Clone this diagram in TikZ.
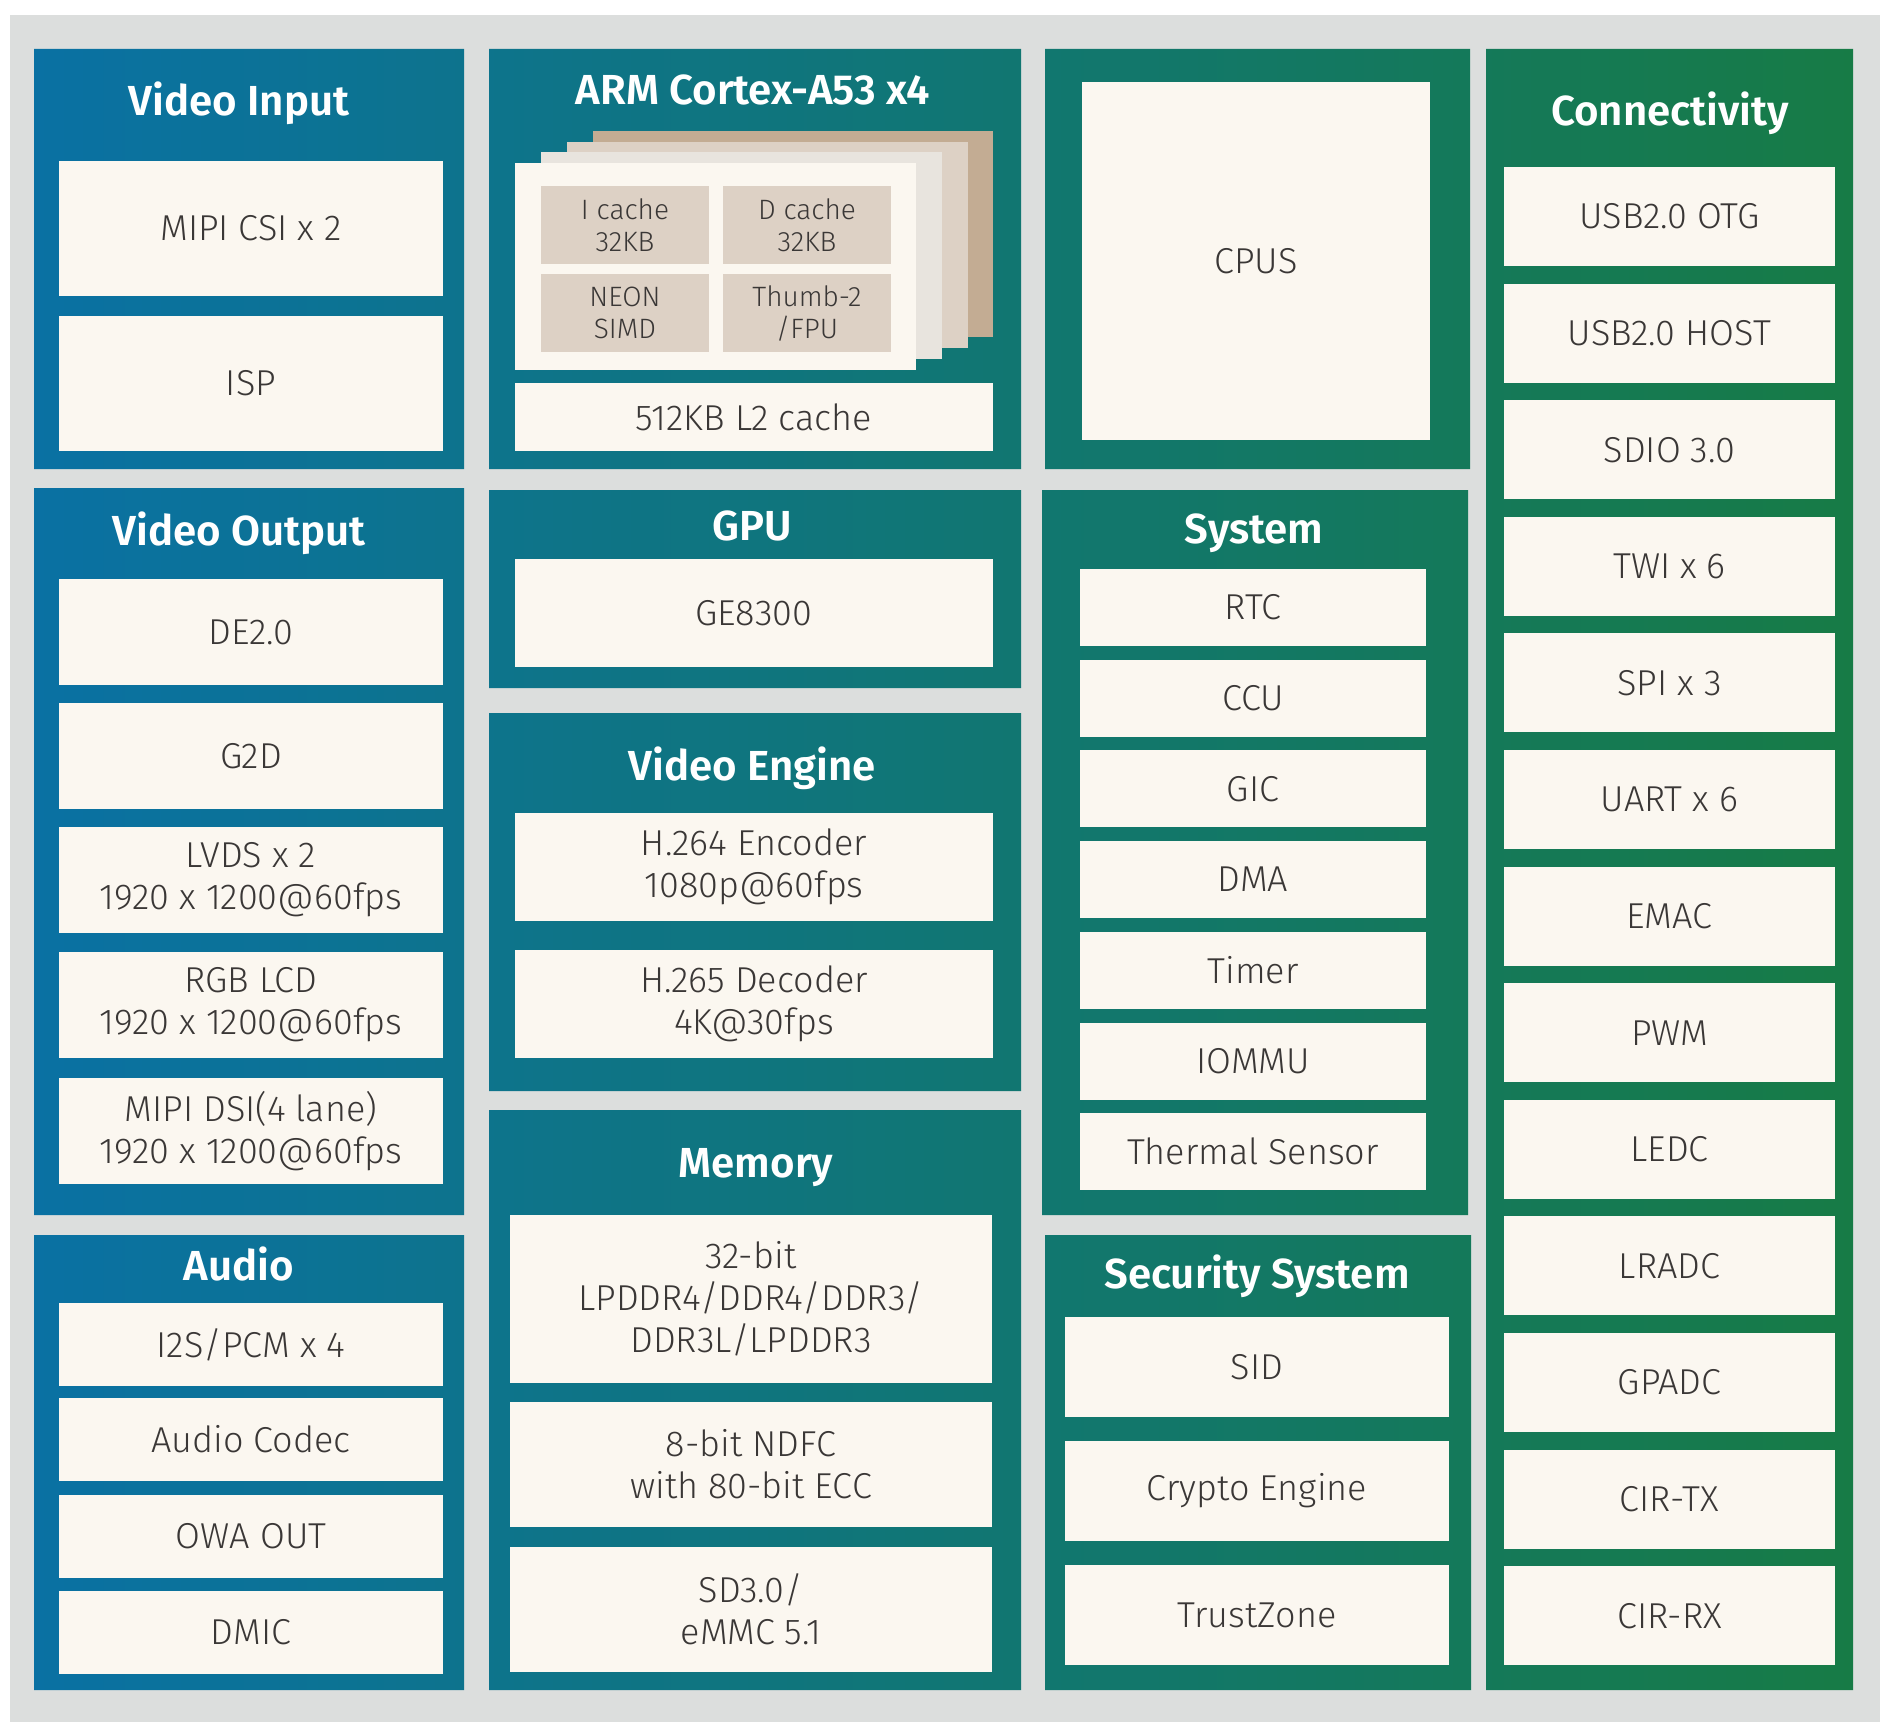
\documentclass[tikz,border=0pt]{standalone}
\usepackage{fontspec}
\setmainfont{Fira Sans Light}[BoldFont=Fira Sans SemiBold]

\definecolor{bggray}{HTML}{DCDEDD}
\definecolor{panl}{HTML}{0A71A3}
\definecolor{panr}{HTML}{177B46}
\definecolor{cream}{HTML}{FBF7F0}
\definecolor{txtgray}{HTML}{3A3736}
\definecolor{cachebox}{HTML}{DDD1C5}
\definecolor{layerA}{HTML}{E8E4DE}
\definecolor{layerB}{HTML}{DDD1C5}
\definecolor{layerC}{HTML}{C3AC93}

\tikzset{
  blk/.style={fill=cream, text=txtgray, inner sep=0pt, outer sep=0pt, align=center,
    font=\fontsize{36}{42}\selectfont},
  ttl/.style={anchor=base, text=white, inner sep=0pt, font=\fontsize{42}{48}\selectfont\bfseries},
  viblk/.style={blk, minimum width=384pt, minimum height=135pt},
  voblk/.style={blk, minimum width=384pt, minimum height=106pt},
  aublk/.style={blk, minimum width=384pt, minimum height=83pt},
  armblk/.style={blk, minimum width=478pt, minimum height=108pt},
  memblk/.style={blk, minimum width=482pt},
  sysblk/.style={blk, minimum width=346pt, minimum height=77pt},
  secblk/.style={blk, minimum width=384pt, minimum height=100pt},
  conblk/.style={blk, minimum width=331pt, minimum height=99pt},
  cacheblk/.style={blk, fill=cachebox, minimum width=168pt, minimum height=78pt,
    font=\fontsize{28}{32}\selectfont}
}

\begin{document}
\begin{tikzpicture}[x=1pt, y=-1pt]
\useasboundingbox (0,0) rectangle (1890,1734);
\fill[white] (0,0) rectangle (1890,1734);
\fill[bggray] (10,15) rectangle (1880,1722);

% panels, one gradient over all of them
\shade[left color=panl, right color=panr]
  (34,49) rectangle (464,469)
  (34,488) rectangle (464,1215)
  (34,1235) rectangle (464,1690)
  (489,49) rectangle (1021,469)
  (489,490) rectangle (1021,688)
  (489,713) rectangle (1021,1091)
  (489,1110) rectangle (1021,1690)
  (1045,49) rectangle (1470,469)
  (1042,490) rectangle (1468,1215)
  (1045,1235) rectangle (1471,1690)
  (1486,49) rectangle (1853,1690);

% titles
\node[ttl] (tvi) at (239,116) {Video Input};
\node[ttl] (tvo) at (239,545) {Video Output};
\node[ttl] (tau) at (239,1280) {Audio};
\node[ttl] (tarm) at (753,105) {ARM Cortex-A53 x4};
\node[ttl] (tgpu) at (752,540) {GPU};
\node[ttl] (tve) at (752,780) {Video Engine};
\node[ttl] (tmem) at (756,1177) {Memory};
\node[ttl] (tsys) at (1254,543) {System};
\node[ttl] (tsec) at (1257,1288) {Security System};
\node[ttl] (tcon) at (1670,126) {Connectivity};

% video input
\node[viblk] (csi) at (251,228.5) {MIPI CSI x 2};
\node[viblk] (isp) at (251,383.5) {ISP};

% video output
\node[voblk] (de) at (251,632) {DE2.0};
\node[voblk] (gtwod) at (251,756) {G2D};
\node[voblk] (lvds) at (251,880) {LVDS x 2\\1920 x 1200@60fps};
\node[voblk] (rgb) at (251,1005) {RGB LCD\\1920 x 1200@60fps};
\node[voblk] (dsi) at (251,1131) {MIPI DSI(4 lane)\\1920 x 1200@60fps};

% audio
\node[aublk] (iis) at (251,1344.5) {I2S/PCM x 4};
\node[aublk] (codec) at (251,1439.5) {Audio Codec};
\node[aublk] (owa) at (251,1536) {OWA OUT};
\node[aublk] (dmic) at (251,1632) {DMIC};

% cpu cores, stacked
\fill[layerC] (593,131) rectangle (993,337);
\fill[layerB] (567,142) rectangle (968,348);
\fill[layerA] (541,152) rectangle (942,359);
\fill[cream] (515,163) rectangle (916,370);
\node[cacheblk] (icache) at (625,225) {I cache\\32KB};
\node[cacheblk] (dcache) at (807,225) {D cache\\32KB};
\node[cacheblk] (neon) at (625,313) {NEON\\SIMD};
\node[cacheblk] (thumb) at (807,313) {Thumb-2\\/FPU};
\node[blk, minimum width=478pt, minimum height=68pt] (ltwo) at (754,417) {512KB L2 cache};

% gpu, video engine
\node[armblk] (ge) at (754,613) {GE8300};
\node[armblk] (enc) at (754,867) {H.264 Encoder\\1080p@60fps};
\node[armblk] (dec) at (754,1004) {H.265 Decoder\\4K@30fps};

% memory
\node[memblk, minimum height=168pt] (dram) at (751,1299) {32-bit\\LPDDR4/DDR4/DDR3/\\DDR3L/LPDDR3};
\node[memblk, minimum height=125pt] (ndfc) at (751,1464.5) {8-bit NDFC\\with 80-bit ECC};
\node[memblk, minimum height=125pt] (emmc) at (751,1609.5) {SD3.0/\\eMMC 5.1};

% cpus
\node[blk, minimum width=348pt, minimum height=358pt] (cpus) at (1256,261) {CPUS};

% system
\foreach \t [count=\i from 0] in {RTC, CCU, GIC, DMA, Timer, IOMMU, Thermal Sensor}
  \node[sysblk] (sys\i) at (1253,{607.5+90.7*\i}) {\t};

% security
\node[secblk] (sid) at (1257,1367) {SID};
\node[secblk] (crypto) at (1257,1491) {Crypto Engine};
\node[secblk] (tz) at (1257,1615) {TrustZone};

% connectivity
\foreach \t [count=\i from 0] in {USB2.0 OTG, USB2.0 HOST, SDIO 3.0, TWI x 6, SPI x 3,
    UART x 6, EMAC, PWM, LEDC, LRADC, GPADC, CIR-TX, CIR-RX}
  \node[conblk] (con\i) at (1669.5,{216.5+116.6*\i}) {\t};
\end{tikzpicture}
\end{document}
